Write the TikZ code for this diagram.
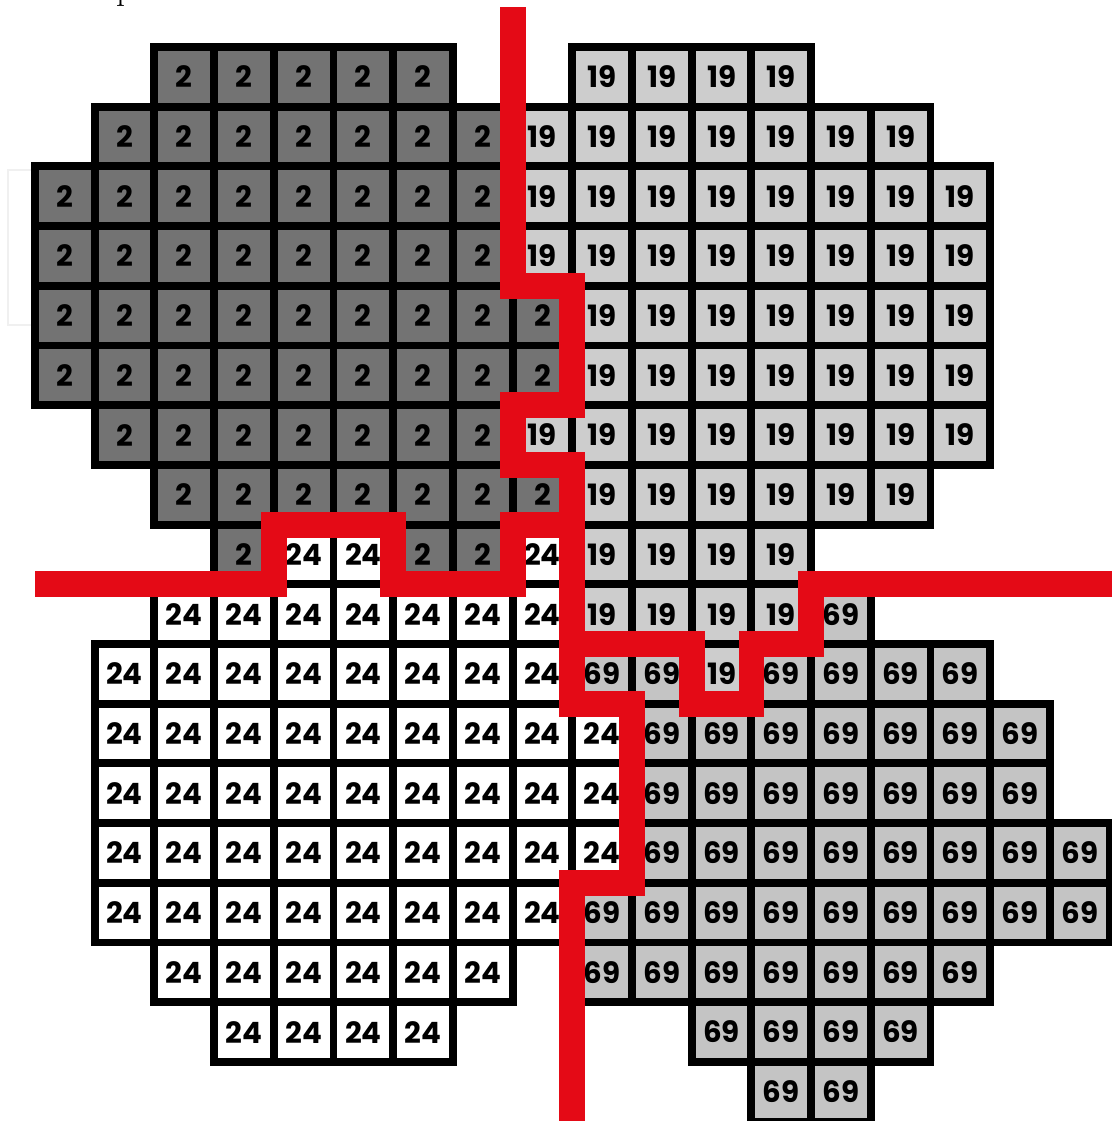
\documentclass[tikz,border=0pt]{standalone}
\usepackage{fontspec}
\newfontfamily\cellfont{Poppins}

\definecolor{cellcol2}{HTML}{737373}
\definecolor{cellcol19}{HTML}{CDCDCD}
\definecolor{cellcol24}{HTML}{FFFFFF}
\definecolor{cellcol69}{HTML}{C4C4C4}
\definecolor{cutred}{RGB}{228,10,22}

\newcommand*{\xmin}{-0.5863}
\newcommand*{\xmax}{18.040}
\newcommand*{\ymin}{-17.990}
\newcommand*{\ymax}{0.7873}

\begin{document}
\begin{tikzpicture}
[
	cell/.style={draw=black,line width=3.8pt,minimum size=1cm,inner sep=0pt,
		font=\cellfont\bfseries\fontsize{14}{16}\selectfont},
	cutline/.style={draw=cutred,line width=12.3pt,line join=miter},
	x=1cm, y=1cm
]

	\useasboundingbox (\xmin,\ymax) rectangle (\xmax,\ymin);

	% faint frame left of the grid
	\draw[gray!12,line width=1pt] (0,-2.06) -- (-0.45,-2.06) -- (-0.45,-4.66) -- (0,-4.66);

	% cut-off letter at the top
	\node (ptop) [anchor=base,inner sep=0pt,font=\fontsize{17}{17}\selectfont] at (1.51,0.80) {p};

	% cells: row/first column/last column/value
	\foreach \r/\from/\to/\v in {
		0/2/6/2, 0/9/12/19,
		1/1/7/2, 1/8/14/19,
		2/0/7/2, 2/8/15/19,
		3/0/7/2, 3/8/15/19,
		4/0/8/2, 4/9/15/19,
		5/0/8/2, 5/9/15/19,
		6/1/7/2, 6/8/15/19,
		7/2/8/2, 7/9/14/19,
		8/3/3/2, 8/4/5/24, 8/6/7/2, 8/8/8/24, 8/9/12/19,
		9/2/8/24, 9/9/12/19, 9/13/13/69,
		10/1/8/24, 10/9/10/69, 10/11/11/19, 10/12/15/69,
		11/1/9/24, 11/10/16/69,
		12/1/9/24, 12/10/16/69,
		13/1/9/24, 13/10/17/69,
		14/1/8/24, 14/9/17/69,
		15/2/7/24, 15/9/15/69,
		16/3/6/24, 16/11/14/69,
		17/12/13/69} {
		\foreach \c in {\from,...,\to} {
			\node[cell,fill=cellcol\v] (c\r-\c) at (\c+0.5,-\r-0.5) {\v};
		}
	}

	% region boundaries
	\draw[cutline] (8,0.67) -- (8,-4) -- (9,-4) -- (9,-6) -- (8,-6) -- (8,-7)
		-- (9,-7) -- (9,-11) -- (10,-11) -- (10,-14) -- (9,-14) -- (9,-18.4);
	\draw[cutline] (0,-9) -- (4,-9) -- (4,-8) -- (6,-8) -- (6,-9) -- (8,-9)
		-- (8,-8) -- (9,-8);
	\draw[cutline] (9,-10) -- (11,-10) -- (11,-11) -- (12,-11) -- (12,-10)
		-- (13,-10) -- (13,-9) -- (18.4,-9);

\end{tikzpicture}
\end{document}
